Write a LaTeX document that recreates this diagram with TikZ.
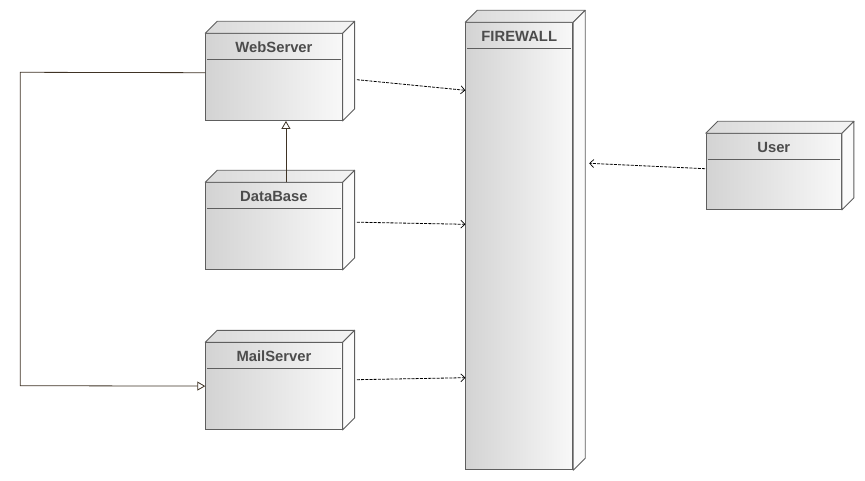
\documentclass[tikz,border=0pt]{standalone}
\usepackage{fontspec}
\setmainfont{Liberation Sans}
\usetikzlibrary{arrows.meta,calc}
\definecolor{edge}{HTML}{5E5E5E}
\definecolor{frontL}{HTML}{D3D3D3}
\definecolor{frontR}{HTML}{F8F8F8}
\definecolor{topL}{HTML}{DADADA}
\definecolor{topR}{HTML}{F4F4F4}
\definecolor{sideC}{HTML}{FBFBFB}
\definecolor{titlec}{HTML}{4C4C4C}
\definecolor{genc}{HTML}{3F3325}
\tikzset{
  front/.style={draw=edge, line width=0.9pt, left color=frontL, right color=frontR,
    rectangle, anchor=north west, inner sep=0pt, minimum width=#1},
  topface/.style={draw=edge, line width=0.9pt, left color=topL, right color=topR, line join=round},
  sideface/.style={draw=edge, line width=0.9pt, fill=sideC, line join=round},
  sep/.style={draw=edge, line width=0.9pt},
  title/.style={anchor=base, text=titlec, font=\fontsize{14.8}{16}\selectfont\bfseries, inner sep=0pt},
  gen/.style={draw=genc, line width=0.8pt, -{Triangle[open, length=8pt, width=9pt]}},
  dep/.style={draw=black, line width=0.8pt, dash pattern=on 3pt off 1.2pt,
    -{Straight Barb[length=4pt, width=8pt, line width=0.7pt]}},
}
\newcommand{\mybox}[7]{% name, x, y, w, h, title, sep offset
  \node[front=#4, minimum height=#5] (#1) at (#2,#3) {};
  \draw[topface] (#1.north west) -- ++(12,-12) -- ($(#1.north east)+(12,-12)$) -- (#1.north east) -- cycle;
  \draw[sideface] (#1.north east) -- ++(12,-12) -- ($(#1.south east)+(12,-12)$) -- (#1.south east) -- cycle;
  \draw[sep] ($(#1.north west)+(2,#7)$) -- ($(#1.north east)+(-2,#7)$);
  \node[title] (#1T) at ($(#1.north)+(0,18.8)$) {#6};
}
\begin{document}
\begin{tikzpicture}[x=1pt,y=-1pt]
\useasboundingbox (0,0) rectangle (865,481);
\mybox{web}{205.3}{33.3}{136.4}{86.7}{WebServer}{26}
\mybox{db}{205.3}{182.3}{136.4}{86.7}{DataBase}{26}
\mybox{ms}{205.3}{342.3}{136.4}{86.7}{MailServer}{26}
\mybox{fw}{465.3}{22.3}{107}{447}{FIREWALL}{26}
\mybox{user}{705.7}{133.3}{135.3}{75.7}{User}{26}
% generalizations
\draw[gen] ($(db.north)+(12,0)$) -- ($(web.south)+(12,0)$);
\coordinate (c1) at (20.3,72.3);
\coordinate (c2) at (20.3,385.7);
\draw[gen] ($(web.west)+(0,-4.4)$) -- (c1) -- (c2) -- (ms.west);
% dependencies
\draw[dep] ($(web.east)+(14.3,2.6)$) -- ($(fw.north west)+(0,68)$);
\draw[dep] ($(db.east)+(14.3,-3.9)$) -- ($(fw.north west)+(0,202)$);
\draw[dep] ($(ms.east)+(14.3,-6.4)$) -- ($(fw.north west)+(0,355.4)$);
\draw[dep] ($(user.west)+(-0.7,-2.9)$) -- ($(fw.north east)+(16,141)$);
\end{tikzpicture}
\end{document}
